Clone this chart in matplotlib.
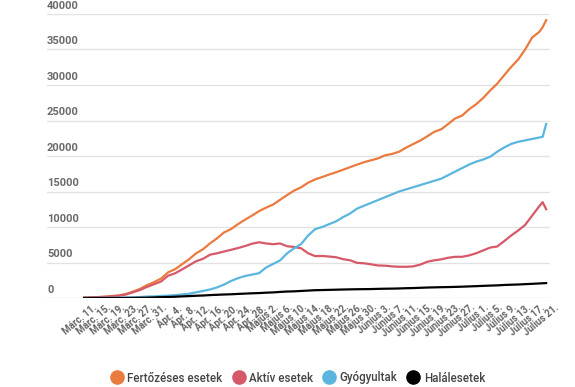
import matplotlib
matplotlib.use("Agg")
import matplotlib.pyplot as plt
import matplotlib.transforms as mtransforms
from matplotlib.lines import Line2D

plt.rcParams['font.family'] = ['Roboto', 'DejaVu Sans']

# napok Márc. 11-tol szamolva
days = list(range(0, 131, 2)) + [131, 132]

fertozeses = [49, 89, 131, 184, 277, 367, 576, 906, 1292, 1815,
              2245, 2738, 3613, 4057, 4761, 5467, 6300, 6879, 7707, 8418,
              9242, 9710, 10417, 11036, 11616, 12240, 12732, 13163, 13837, 14499,
              15131, 15588, 16247, 16704, 17036, 17387, 17712, 18070, 18429, 18791,
              19133, 19398, 19669, 20103, 20290, 20604, 21182, 21679, 22165, 22760,
              23400, 23760, 24505, 25286, 25697, 26582, 27296, 28166, 29223, 30175,
              31376, 32535, 33585, 35003, 36691, 37458,
              38139, 39133]
aktiv = [43, 80, 122, 168, 252, 315, 500, 810, 1130, 1570,
         1940, 2330, 3140, 3480, 4030, 4600, 5180, 5530, 6100, 6300,
         6550, 6790, 7040, 7320, 7650, 7850, 7680, 7580, 7680, 7290,
         7190, 7000, 6300, 5900, 5920, 5840, 5740, 5470, 5310, 4950,
         4890, 4740, 4580, 4550, 4450, 4400, 4400, 4450, 4700, 5100,
         5300, 5440, 5670, 5800, 5800, 6000, 6300, 6700, 7100, 7250,
         8000, 8800, 9500, 10300, 11600, 12900,
         13500, 12500]
gyogyultak = [6, 9, 9, 16, 25, 52, 73, 79, 136, 206,
              220, 294, 329, 400, 500, 600, 800, 1000, 1200, 1500,
              1900, 2400, 2800, 3100, 3300, 3500, 4300, 4800, 5300, 6300,
              7000, 7600, 8800, 9700, 10000, 10400, 10800, 11400, 11900, 12600,
              13000, 13400, 13800, 14200, 14600, 15000, 15300, 15600, 15900, 16200,
              16500, 16800, 17300, 17800, 18300, 18800, 19200, 19500, 19900, 20600,
              21200, 21700, 22000, 22200, 22400, 22600,
              22700, 24500]
halal = [0, 0, 0, 0, 0, 0, 7, 17, 26, 43,
         82, 115, 146, 176, 229, 270, 316, 351, 411, 451,
         494, 524, 575, 619, 663, 693, 749, 788, 856, 912,
         939, 992, 1046, 1097, 1120, 1146, 1170, 1197, 1216, 1235,
         1247, 1259, 1288, 1309, 1321, 1344, 1379, 1399, 1437, 1473,
         1498, 1523, 1540, 1565, 1594, 1632, 1667, 1708, 1747, 1778,
         1834, 1870, 1901, 1952, 1996, 2050,
         2074, 2101]

tick_days = list(range(0, 133, 4))
tick_labels = ["Márc. 11.", "Márc. 15.", "Márc. 19.", "Márc. 23.", "Márc. 27.", "Márc. 31.",
               "Ápr. 4.", "Ápr. 8.", "Ápr. 12.", "Ápr. 16.", "Ápr. 20.", "Ápr. 24.", "Ápr. 28.",
               "Május 2.", "Május 6.", "Május 10.", "Május 14.", "Május 18.", "Május 22.",
               "Május 26.", "Május 30.", "Június 3.", "Június 7.", "Június 11.", "Június 15.",
               "Június 19.", "Június 23.", "Június 27.", "Július 1.", "Július 5.", "Július 9.",
               "Július 13.", "Július 17.", "Július 21."]
y_ticks = [0, 5000, 10000, 15000, 20000, 25000, 30000, 35000, 40000]

series = [("Fertőzéses esetek", fertozeses, "#EB7A3E"),
          ("Aktív esetek", aktiv, "#D6596A"),
          ("Gyógyultak", gyogyultak, "#5AB6DF"),
          ("Halálesetek", halal, "#000000")]

fig = plt.figure(figsize=(5.75, 3.87), dpi=100)
ax = fig.add_axes([47 / 575, 1 - 298 / 387, 503 / 575, 284 / 387])

for name, vals, col in series:
    ax.plot(days, vals, color=col, lw=1.6, solid_joinstyle='round')

ax.set_xlim(-10.6, 133.1)
ax.set_ylim(0, 40000)
for s in ax.spines.values():
    s.set_visible(False)

ax.set_yticks(y_ticks)
ax.yaxis.grid(True, color="#e2e2e2", lw=1)
ax.set_axisbelow(True)
ax.tick_params(axis='y', length=0, labelleft=False)
trans = mtransforms.blended_transform_factory(ax.transAxes, ax.transData)
for v in y_ticks:
    ax.annotate(str(v), (0, v), xycoords=trans, xytext=(0, 2.2), textcoords='offset points',
                ha='left', va='bottom', fontsize=8, color="#6a6a6a", fontweight='bold')

ax.set_xticks(tick_days)
ax.set_xticklabels(tick_labels, rotation=40, ha='right', va='top',
                   rotation_mode='anchor', fontsize=6.9, color="#666666", fontweight='bold')
ax.tick_params(axis='x', length=0, pad=3)
offset = mtransforms.ScaledTranslation(8 / 100, 0, fig.dpi_scale_trans)
for lbl in ax.get_xticklabels():
    lbl.set_transform(lbl.get_transform() + offset)

handles = [Line2D([], [], ls='none', marker='o', markersize=9.5, color=col, label=name)
           for name, vals, col in series]
fig.legend(handles=handles, loc='center', bbox_to_anchor=(298 / 575, 1 - 378 / 387),
           ncol=4, frameon=False, handletextpad=0.4, columnspacing=0.9,
           labelcolor="#444444", handlelength=1.0,
           prop={'size': 8.3, 'weight': 'medium'})

fig.savefig("out.png", dpi=100)
